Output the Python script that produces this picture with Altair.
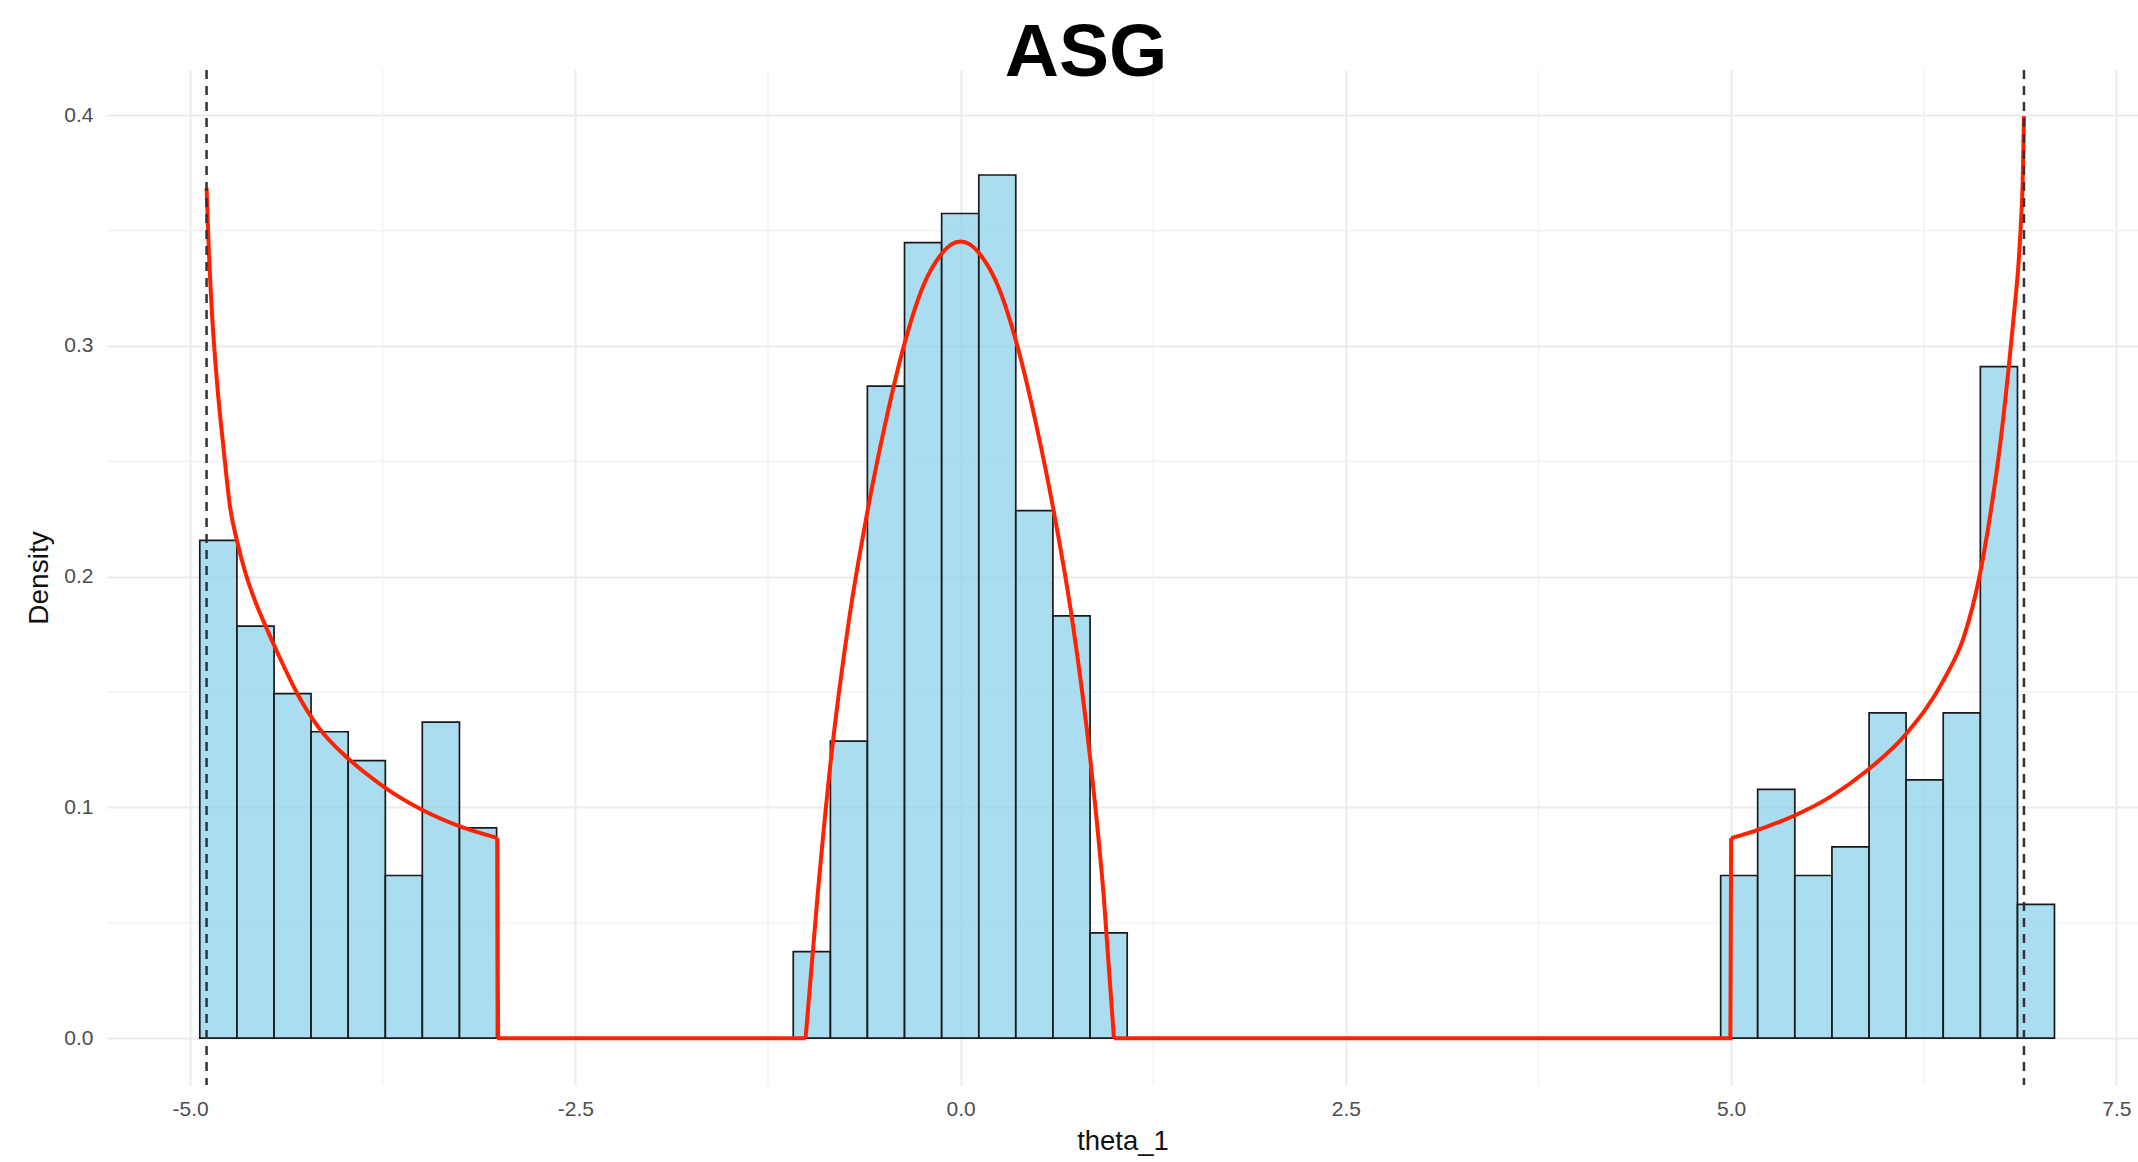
import altair as alt
import pandas as pd

# ---- data ----
bin_left = [-4.937, -4.696, -4.455, -4.215, -3.974, -3.733, -3.493, -3.252,
            -1.086, -0.845, -0.605, -0.364, -0.123, 0.118, 0.358, 0.599, 0.840,
            4.932, 5.172, 5.413, 5.654, 5.895, 6.135, 6.376, 6.617, 6.858]
bin_right = [-4.696, -4.455, -4.215, -3.974, -3.733, -3.493, -3.252, -3.011,
             -0.845, -0.605, -0.364, -0.123, 0.118, 0.358, 0.599, 0.840, 1.081,
             5.172, 5.413, 5.654, 5.895, 6.135, 6.376, 6.617, 6.858, 7.098]
bin_density = [0.2157, 0.1786, 0.1493, 0.1328, 0.1203, 0.0705, 0.1370, 0.0911,
               0.0375, 0.1287, 0.2826, 0.3448, 0.3574, 0.3741, 0.2286, 0.1830, 0.0456,
               0.0705, 0.1078, 0.0705, 0.0829, 0.1410, 0.1119, 0.1410, 0.2910, 0.0580]

# density curve, read in pieces (segment id per point)
left_x = [-4.893, -4.878, -4.856, -4.824, -4.781, -4.740, -4.696, -4.640, -4.580,
          -4.510, -4.420, -4.304, -4.164, -3.991, -3.860, -3.729, -3.489, -3.249, -3.006]
left_y = [0.3685, 0.3410, 0.3123, 0.2834, 0.2545, 0.2300, 0.2157, 0.2015, 0.1898,
          0.1786, 0.1652, 0.1493, 0.1345, 0.1222, 0.1148, 0.1083, 0.0988, 0.0918, 0.0868]
gap1_x = [-3.006, -3.000, -1.006]
gap1_y = [0.0868, 0.0, 0.0]
mid_x = [-1.006, -0.930, -0.844, -0.725, -0.605, -0.490, -0.365, -0.240, -0.120,
         -0.060, 0.000, 0.060, 0.120, 0.240, 0.365, 0.490, 0.605, 0.725, 0.844,
         0.930, 0.995]
mid_y = [0.0, 0.0603, 0.1193, 0.1809, 0.2281, 0.2660, 0.3008, 0.3264, 0.3402,
         0.3440, 0.3453, 0.3440, 0.3402, 0.3264, 0.3008, 0.2660, 0.2281, 0.1809, 0.1193,
         0.0603, 0.0]
gap2_x = [0.995, 4.995, 5.000]
gap2_y = [0.0, 0.0, 0.0867]
right_x = [5.000, 5.170, 5.408, 5.646, 5.884, 6.132, 6.381, 6.511, 6.608, 6.684,
           6.749, 6.800, 6.840, 6.865, 6.880, 6.892, 6.900]
right_y = [0.0867, 0.0902, 0.0964, 0.1047, 0.1161, 0.1316, 0.1555, 0.1741, 0.1990, 0.2280,
           0.2591, 0.2900, 0.3170, 0.3360, 0.3530, 0.3720, 0.3996]

dashed_x = [-4.893, 6.900]

x_ticks = [-5.0, -2.5, 0.0, 2.5, 5.0, 7.5]
y_ticks = [0.0, 0.1, 0.2, 0.3, 0.4]
x_minor = [-3.75, -1.25, 1.25, 3.75, 6.25]
y_minor = [0.05, 0.15, 0.25, 0.35]

title_text = ["ASG"]

# ---- tables ----
bars = pd.DataFrame({"left": bin_left, "right": bin_right,
                     "density": bin_density, "base": [0.0] * len(bin_left)})
pieces = [("a", left_x, left_y), ("b", gap1_x, gap1_y), ("c", mid_x, mid_y),
          ("d", gap2_x, gap2_y), ("e", right_x, right_y)]
rows = []
for seg, xs, ys in pieces:
    for xv, yv in zip(xs, ys):
        rows.append({"x": xv, "y": yv, "seg": seg, "i": len(rows)})
curve = pd.DataFrame(rows)
vlines = pd.DataFrame({"x": dashed_x})
xmin = pd.DataFrame({"x": x_minor})
ymin = pd.DataFrame({"y": y_minor})
tdf = pd.DataFrame({"t": title_text})

FONT = "Liberation Sans"
xscale = alt.Scale(domain=[-5.539, 7.64], nice=False, zero=False)
yscale = alt.Scale(domain=[-0.0203, 0.4196], nice=False, zero=False)

label_expr = "datum.value < 0 ? '-' + format(abs(datum.value), '.1f') : format(datum.value, '.1f')"

xaxis = alt.Axis(values=x_ticks, labelExpr=label_expr, title="theta_1",
                 grid=True, gridColor="#EBEBEB", gridWidth=2,
                 ticks=False, domain=False, labelFont=FONT, labelFontSize=21,
                 labelColor="#4D4D4D", labelPadding=13,
                 titleFont=FONT, titleFontSize=27.5, titleFontWeight="normal",
                 titleColor="#111111", titleY=64, titleBaseline="alphabetic")
yaxis = alt.Axis(values=y_ticks, format=".1f", title="Density",
                 grid=True, gridColor="#EBEBEB", gridWidth=2,
                 ticks=False, domain=False, labelFont=FONT, labelFontSize=21,
                 labelColor="#4D4D4D", labelPadding=14,
                 titleFont=FONT, titleFontSize=28, titleFontWeight="normal",
                 titleColor="#111111", titleAngle=270, titleX=-60, titleY=507.5,
                 titleAlign="center", titleBaseline="alphabetic")

minor_x = alt.Chart(xmin).mark_rule(color="#F0F0F0", strokeWidth=1.3).encode(
    x=alt.X("x:Q", scale=xscale, axis=xaxis))
minor_y = alt.Chart(ymin).mark_rule(color="#F0F0F0", strokeWidth=1.3).encode(
    y=alt.Y("y:Q", scale=yscale, axis=yaxis))

hist = alt.Chart(bars).mark_rect(fill="#87CEEB", fillOpacity=0.7,
                                 stroke="#1a1a1a", strokeWidth=1.7).encode(
    x=alt.X("left:Q", scale=xscale, axis=xaxis),
    x2="right:Q",
    y=alt.Y("density:Q", scale=yscale, axis=yaxis),
    y2="base:Q")

line = alt.Chart(curve).mark_line(color="#FF2200", strokeWidth=4,
                                  interpolate="monotone").encode(
    x=alt.X("x:Q", scale=xscale, axis=xaxis),
    y=alt.Y("y:Q", scale=yscale, axis=yaxis),
    detail="seg:N",
    order="i:Q")

rules = alt.Chart(vlines).mark_rule(color="#333333", strokeWidth=2.5,
                                    strokeDash=[9, 7]).encode(
    x=alt.X("x:Q", scale=xscale, axis=xaxis))

title = alt.Chart(tdf).mark_text(font=FONT, fontSize=75, fontWeight="bold",
                                 color="black", align="center",
                                 baseline="alphabetic").encode(
    text="t:N", x=alt.value(979), y=alt.value(6))

chart = alt.layer(minor_x, minor_y, hist, line, rules, title).properties(
    width=2031, height=1015,
    background="white",
    autosize=alt.AutoSizeParams(type="none"),
    padding={"left": 107, "top": 70, "right": 0, "bottom": 77},
).configure_view(stroke="transparent", strokeWidth=0)

chart.save("out.html", embed_options={"renderer": "svg", "actions": False})
